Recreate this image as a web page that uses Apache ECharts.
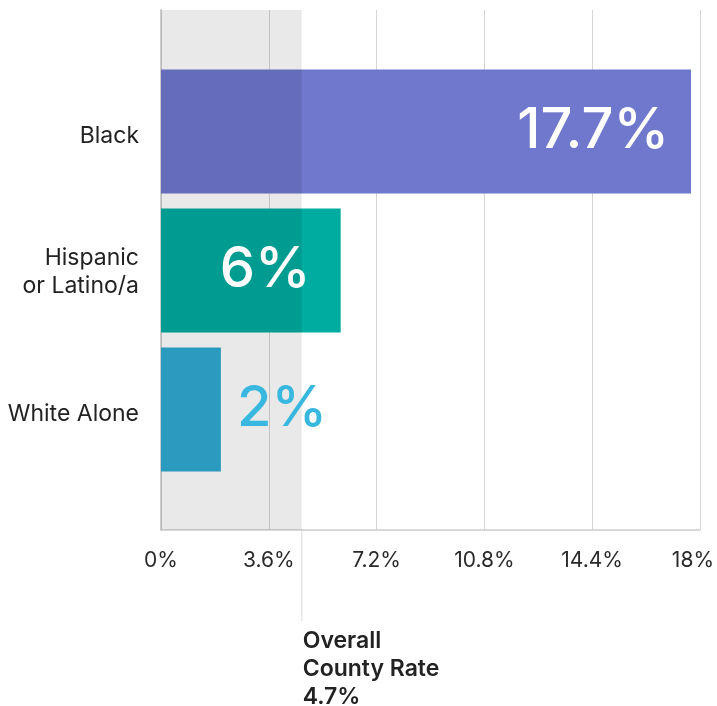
<!DOCTYPE html>
<html>
<head>
<meta charset="utf-8">
<script src="https://cdn.jsdelivr.net/npm/echarts@6/dist/echarts.min.js"></script>
<style>
  html, body { margin: 0; padding: 0; background: #ffffff; }
  #chart { width: 717px; height: 706px; }
</style>
</head>
<body>
<div id="chart"></div>
<script>
// Groups, top to bottom
const categories = ['Black', 'Hispanic\nor Latino/a', 'White Alone'];
// Rate for each group (%)
const rates = [17.7, 6, 2];
const barColors = ['#6f78cc', '#00ab9f', '#2eaad0'];
// County-wide reference rate (%)
const overallRate = 4.7;
const overallLabel = ['Overall', 'County Rate', overallRate + '%'];
// Value axis ticks
const xTicks = [0, 3.6, 7.2, 10.8, 14.4, 18];

const FONT = 'Inter, "Noto Sans", sans-serif';
const chart = echarts.init(document.getElementById('chart'));

const labelStyles = [
  { show: true, position: 'insideRight', distance: 22, color: '#ffffff' },
  { show: true, position: 'insideRight', distance: 30, color: '#ffffff' },
  { show: true, position: 'right', distance: 16, color: '#38b8df' }
];

const gridBox = { left: 161, right: 17 };
const catText = { fontSize: 23, lineHeight: 28, color: '#222222', fontFamily: FONT };

chart.setOption({
  animation: false,
  backgroundColor: '#ffffff',
  grid: [
    { left: gridBox.left, right: gridBox.right, top: 10, bottom: 176 },
    { left: gridBox.left, right: gridBox.right, top: 62, height: 417 }
  ],
  xAxis: [
    {
      gridIndex: 0, type: 'value',
      min: xTicks[0], max: xTicks[xTicks.length - 1], interval: xTicks[1] - xTicks[0],
      axisLine: { show: true, lineStyle: { color: '#cccccc', width: 1.5 } },
      axisTick: { show: false },
      splitLine: { show: true, lineStyle: { color: '#d4d4d4', width: 1 } },
      axisLabel: {
        margin: 20, fontSize: 21, color: '#2a2a2a', fontFamily: FONT,
        formatter: function (v) {
          const s = (+v.toFixed(1)) + '%';
          return Math.abs(v - xTicks[xTicks.length - 1]) < 1e-6 ? '{last|' + s + '}' : s;
        },
        rich: { last: { fontSize: 21, color: '#2a2a2a', fontFamily: FONT, padding: [0, 14, 0, 0] } }
      }
    },
    {
      gridIndex: 1, type: 'value',
      min: xTicks[0], max: xTicks[xTicks.length - 1],
      show: false
    }
  ],
  yAxis: [
    {
      gridIndex: 0, type: 'value', min: 0, max: 1,
      axisLine: { show: true, lineStyle: { color: '#cccccc', width: 2 } },
      axisTick: { show: false }, axisLabel: { show: false }, splitLine: { show: false }
    },
    {
      gridIndex: 1, type: 'category', inverse: true, data: categories,
      axisLine: { show: false }, axisTick: { show: false }, splitLine: { show: false },
      axisLabel: Object.assign({
        margin: 22, align: 'right',
        formatter: function (v) {
          return v.indexOf('\n') < 0 ? '{one|' + v + '}' : v.split('\n').map(function (s) { return '{two|' + s + '}'; }).join('\n');
        },
        rich: {
          one: Object.assign({ padding: [9, 0, 0, 0] }, catText),
          two: Object.assign({ padding: [3, 0, 0, 0] }, catText)
        }
      }, catText)
    }
  ],
  series: [
    {
      // Bars
      type: 'bar',
      xAxisIndex: 1, yAxisIndex: 1,
      barCategoryGap: '10.8%',
      z: 2,
      data: rates.map(function (v, i) {
        return { value: v, itemStyle: { color: barColors[i] } };
      })
    },
    {
      // Value labels, kept above the shaded region
      type: 'bar',
      xAxisIndex: 1, yAxisIndex: 1,
      barGap: '-100%',
      barCategoryGap: '10.8%',
      z: 10,
      silent: true,
      itemStyle: { color: 'rgba(0,0,0,0)' },
      data: rates.map(function (v, i) {
        return { value: v, label: labelStyles[i] };
      }),
      label: {
        show: true, fontSize: 56, fontWeight: 500, fontFamily: FONT,
        formatter: function (p) { return p.value + '%'; }
      }
    },
    {
      // Shaded region up to the county-wide rate, laid over the bars
      type: 'line',
      xAxisIndex: 0, yAxisIndex: 0,
      data: [],
      z: 5,
      markArea: {
        silent: true,
        z: 5,
        itemStyle: { color: 'rgba(0,0,0,0.087)' },
        data: [[{ xAxis: 0 }, { xAxis: overallRate }]]
      }
    }
  ]
});

// Connector and caption below the axis at the county-wide rate
const px = chart.convertToPixel({ xAxisIndex: 0 }, overallRate);
const py = chart.convertToPixel({ yAxisIndex: 0 }, 0);
chart.setOption({
  graphic: [
    {
      type: 'line', silent: true,
      shape: { x1: px, y1: py, x2: px, y2: py + 91 },
      style: { stroke: '#e6e6e6', lineWidth: 1.5 }
    },
    {
      type: 'text', silent: true,
      x: px + 1, y: py + 97,
      style: {
        text: overallLabel.join('\n'),
        fontSize: 23, fontWeight: 600, lineHeight: 28,
        fontFamily: FONT, fill: '#222222',
        align: 'left', verticalAlign: 'top'
      }
    }
  ]
});
</script>
</body>
</html>
